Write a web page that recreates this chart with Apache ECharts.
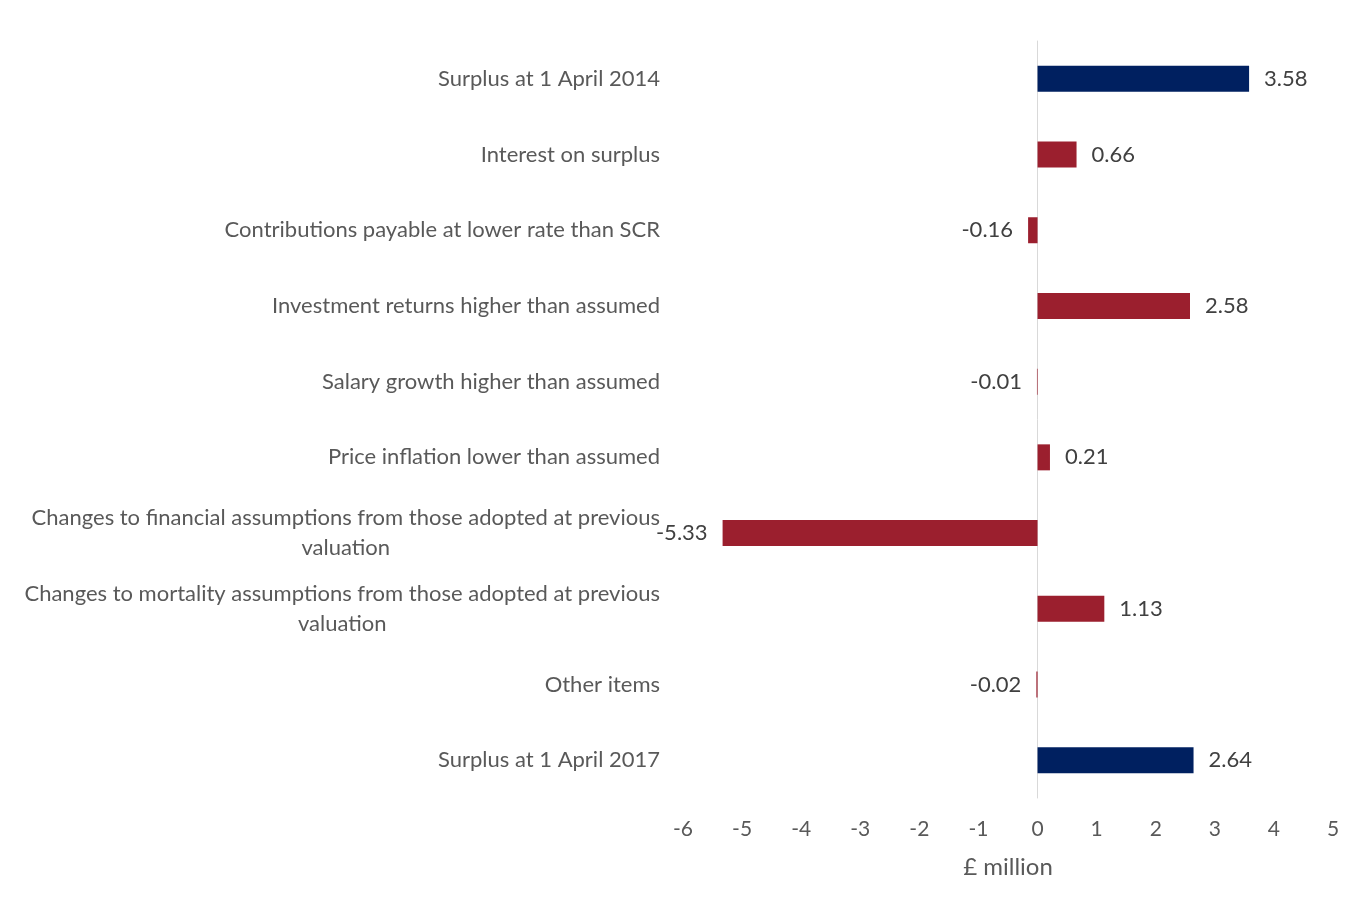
<!DOCTYPE html>
<html>
<head>
<meta charset="utf-8">
<script src="https://cdn.jsdelivr.net/npm/echarts@6/dist/echarts.min.js"></script>
<style>
  html, body { margin: 0; padding: 0; background: #ffffff; }
  #chart { width: 1357px; height: 917px; }
</style>
</head>
<body>
<div id="chart"></div>
<script>
// Analysis of surplus movement between valuations
const categories = [
  'Surplus at 1 April 2014',
  'Interest on surplus',
  'Contributions payable at lower rate than SCR',
  'Investment returns higher than assumed',
  'Salary growth higher than assumed',
  'Price inflation lower than assumed',
  'Changes to financial assumptions from those adopted at previous\nvaluation',
  'Changes to mortality assumptions from those adopted at previous\nvaluation',
  'Other items',
  'Surplus at 1 April 2017'
];
const values = [3.58, 0.66, -0.16, 2.58, -0.01, 0.21, -5.33, 1.13, -0.02, 2.64];
// Opening and closing totals are drawn in navy, movements in red
const isTotal = [true, false, false, false, false, false, false, false, false, true];
const xTicks = { min: -6, max: 5, interval: 1 };

const NAVY = '#002060';
const RED = '#9b1f2e';
const FONT = 'Lato';

const chart = echarts.init(document.getElementById('chart'));

const seriesData = values.map((v, i) => ({
  value: v,
  itemStyle: { color: isTotal[i] ? NAVY : RED },
  label: { position: v < 0 ? 'left' : 'right' }
}));

chart.setOption({
  animation: false,
  grid: { left: 683, right: 24, top: 41, bottom: 119, containLabel: false },
  xAxis: {
    type: 'value',
    min: xTicks.min,
    max: xTicks.max,
    interval: xTicks.interval,
    name: '£ million',
    nameLocation: 'middle',
    nameGap: 57,
    nameTextStyle: { color: '#595959', fontSize: 24, fontFamily: FONT },
    axisLine: { show: false },
    axisTick: { show: false },
    splitLine: { show: false },
    axisLabel: { color: '#595959', fontSize: 21, fontFamily: FONT, margin: 21 }
  },
  yAxis: [{
    // category labels down the left edge
    type: 'category',
    data: categories,
    inverse: true,
    position: 'left',
    axisLine: { show: false, onZero: false },
    axisTick: { show: false },
    axisLabel: {
      margin: 23,
      color: '#595959',
      fontSize: 22,
      fontFamily: FONT,
      formatter: function (val) {
        if (val.indexOf('\n') < 0) return val;
        return val.split('\n').map(s => '{c|' + s + '}').join('\n');
      },
      rich: {
        c: { align: 'center', color: '#595959', fontSize: 22, fontFamily: FONT, lineHeight: 30 }
      }
    }
  }, {
    // zero line, drawn beneath the bars
    type: 'category',
    data: categories,
    inverse: true,
    position: 'left',
    axisLine: { show: true, onZero: true, lineStyle: { color: '#d9d9d9', width: 1 } },
    axisTick: { show: false },
    axisLabel: { show: false }
  }],
  series: [{
    type: 'bar',
    data: seriesData,
    barWidth: 26,
    label: {
      show: true,
      distance: 15,
      color: '#404040',
      fontSize: 22,
      fontFamily: FONT,
      formatter: p => p.value.toFixed(2)
    }
  }]
});
</script>
</body>
</html>
